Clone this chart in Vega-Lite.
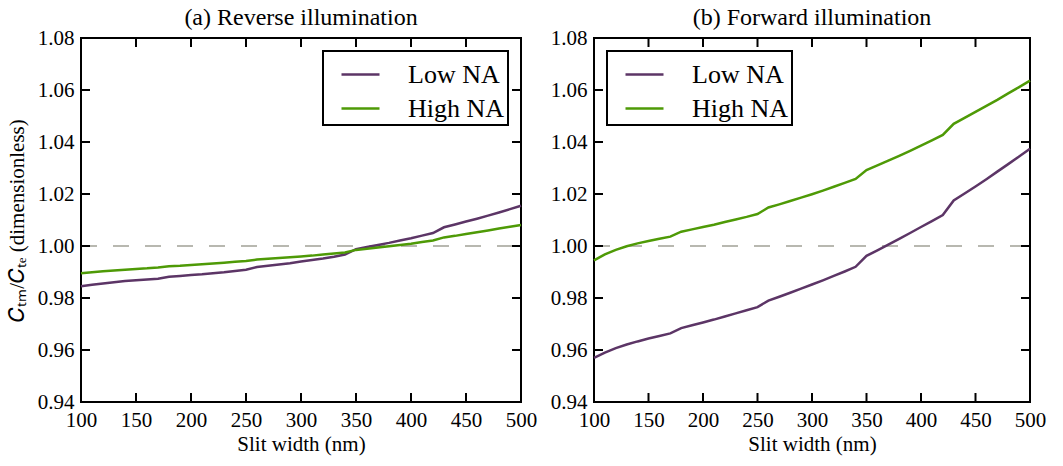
{
  "$schema": "https://vega.github.io/schema/vega-lite/v6.json",
  "padding": {"left": 5, "top": 5, "right": 5, "bottom": 5},
  "background": "white",
  "datasets": {
    "xt": [{"v":100},{"v":150},{"v":200},{"v":250},{"v":300},{"v":350},{"v":400},{"v":450},{"v":500}],
    "yt": [{"v":0.94},{"v":0.96},{"v":0.98},{"v":1.0},{"v":1.02},{"v":1.04},{"v":1.06},{"v":1.08}],
    "rev": [
      {"s":"Low NA","w":100,"c":0.9845},{"s":"Low NA","w":110,"c":0.9851},{"s":"Low NA","w":120,"c":0.9856},{"s":"Low NA","w":130,"c":0.9861},{"s":"Low NA","w":140,"c":0.9865},{"s":"Low NA","w":150,"c":0.9868},{"s":"Low NA","w":160,"c":0.9871},{"s":"Low NA","w":170,"c":0.9874},{"s":"Low NA","w":180,"c":0.9882},{"s":"Low NA","w":190,"c":0.9885},{"s":"Low NA","w":200,"c":0.9888},{"s":"Low NA","w":210,"c":0.9891},{"s":"Low NA","w":220,"c":0.9895},{"s":"Low NA","w":230,"c":0.9899},{"s":"Low NA","w":240,"c":0.9904},{"s":"Low NA","w":250,"c":0.9909},{"s":"Low NA","w":260,"c":0.9919},{"s":"Low NA","w":270,"c":0.9924},{"s":"Low NA","w":280,"c":0.9929},{"s":"Low NA","w":290,"c":0.9934},{"s":"Low NA","w":300,"c":0.9940},{"s":"Low NA","w":310,"c":0.9946},{"s":"Low NA","w":320,"c":0.9952},{"s":"Low NA","w":330,"c":0.9959},{"s":"Low NA","w":340,"c":0.9967},{"s":"Low NA","w":350,"c":0.9988},{"s":"Low NA","w":360,"c":0.9996},{"s":"Low NA","w":370,"c":1.0004},{"s":"Low NA","w":380,"c":1.0012},{"s":"Low NA","w":390,"c":1.0021},{"s":"Low NA","w":400,"c":1.0030},{"s":"Low NA","w":410,"c":1.0040},{"s":"Low NA","w":420,"c":1.0050},{"s":"Low NA","w":430,"c":1.0072},{"s":"Low NA","w":440,"c":1.0083},{"s":"Low NA","w":450,"c":1.0094},{"s":"Low NA","w":460,"c":1.0105},{"s":"Low NA","w":470,"c":1.0117},{"s":"Low NA","w":480,"c":1.0129},{"s":"Low NA","w":490,"c":1.0142},{"s":"Low NA","w":500,"c":1.0155},
      {"s":"High NA","w":100,"c":0.9895},{"s":"High NA","w":110,"c":0.9899},{"s":"High NA","w":120,"c":0.9903},{"s":"High NA","w":130,"c":0.9906},{"s":"High NA","w":140,"c":0.9909},{"s":"High NA","w":150,"c":0.9912},{"s":"High NA","w":160,"c":0.9914},{"s":"High NA","w":170,"c":0.9917},{"s":"High NA","w":180,"c":0.9922},{"s":"High NA","w":190,"c":0.9924},{"s":"High NA","w":200,"c":0.9927},{"s":"High NA","w":210,"c":0.9930},{"s":"High NA","w":220,"c":0.9933},{"s":"High NA","w":230,"c":0.9936},{"s":"High NA","w":240,"c":0.9939},{"s":"High NA","w":250,"c":0.9942},{"s":"High NA","w":260,"c":0.9948},{"s":"High NA","w":270,"c":0.9951},{"s":"High NA","w":280,"c":0.9954},{"s":"High NA","w":290,"c":0.9957},{"s":"High NA","w":300,"c":0.9960},{"s":"High NA","w":310,"c":0.9963},{"s":"High NA","w":320,"c":0.9967},{"s":"High NA","w":330,"c":0.9971},{"s":"High NA","w":340,"c":0.9975},{"s":"High NA","w":350,"c":0.9985},{"s":"High NA","w":360,"c":0.9989},{"s":"High NA","w":370,"c":0.9994},{"s":"High NA","w":380,"c":0.9999},{"s":"High NA","w":390,"c":1.0004},{"s":"High NA","w":400,"c":1.0009},{"s":"High NA","w":410,"c":1.0015},{"s":"High NA","w":420,"c":1.0021},{"s":"High NA","w":430,"c":1.0033},{"s":"High NA","w":440,"c":1.0039},{"s":"High NA","w":450,"c":1.0046},{"s":"High NA","w":460,"c":1.0053},{"s":"High NA","w":470,"c":1.0060},{"s":"High NA","w":480,"c":1.0067},{"s":"High NA","w":490,"c":1.0074},{"s":"High NA","w":500,"c":1.0081}
    ],
    "fwd": [
      {"s":"Low NA","w":100,"c":0.9570},{"s":"Low NA","w":110,"c":0.9590},{"s":"Low NA","w":120,"c":0.9607},{"s":"Low NA","w":130,"c":0.9621},{"s":"Low NA","w":140,"c":0.9633},{"s":"Low NA","w":150,"c":0.9644},{"s":"Low NA","w":160,"c":0.9654},{"s":"Low NA","w":170,"c":0.9664},{"s":"Low NA","w":180,"c":0.9684},{"s":"Low NA","w":190,"c":0.9695},{"s":"Low NA","w":200,"c":0.9706},{"s":"Low NA","w":210,"c":0.9717},{"s":"Low NA","w":220,"c":0.9729},{"s":"Low NA","w":230,"c":0.9741},{"s":"Low NA","w":240,"c":0.9753},{"s":"Low NA","w":250,"c":0.9765},{"s":"Low NA","w":260,"c":0.9790},{"s":"Low NA","w":270,"c":0.9805},{"s":"Low NA","w":280,"c":0.9820},{"s":"Low NA","w":290,"c":0.9836},{"s":"Low NA","w":300,"c":0.9852},{"s":"Low NA","w":310,"c":0.9868},{"s":"Low NA","w":320,"c":0.9885},{"s":"Low NA","w":330,"c":0.9902},{"s":"Low NA","w":340,"c":0.9920},{"s":"Low NA","w":350,"c":0.9962},{"s":"Low NA","w":360,"c":0.9983},{"s":"Low NA","w":370,"c":1.0005},{"s":"Low NA","w":380,"c":1.0027},{"s":"Low NA","w":390,"c":1.0050},{"s":"Low NA","w":400,"c":1.0073},{"s":"Low NA","w":410,"c":1.0096},{"s":"Low NA","w":420,"c":1.0119},{"s":"Low NA","w":430,"c":1.0175},{"s":"Low NA","w":440,"c":1.0202},{"s":"Low NA","w":450,"c":1.0229},{"s":"Low NA","w":460,"c":1.0257},{"s":"Low NA","w":470,"c":1.0286},{"s":"Low NA","w":480,"c":1.0315},{"s":"Low NA","w":490,"c":1.0344},{"s":"Low NA","w":500,"c":1.0374},
      {"s":"High NA","w":100,"c":0.9945},{"s":"High NA","w":110,"c":0.9968},{"s":"High NA","w":120,"c":0.9985},{"s":"High NA","w":130,"c":0.9999},{"s":"High NA","w":140,"c":1.0010},{"s":"High NA","w":150,"c":1.0019},{"s":"High NA","w":160,"c":1.0028},{"s":"High NA","w":170,"c":1.0036},{"s":"High NA","w":180,"c":1.0055},{"s":"High NA","w":190,"c":1.0064},{"s":"High NA","w":200,"c":1.0073},{"s":"High NA","w":210,"c":1.0082},{"s":"High NA","w":220,"c":1.0092},{"s":"High NA","w":230,"c":1.0102},{"s":"High NA","w":240,"c":1.0112},{"s":"High NA","w":250,"c":1.0123},{"s":"High NA","w":260,"c":1.0148},{"s":"High NA","w":270,"c":1.0160},{"s":"High NA","w":280,"c":1.0173},{"s":"High NA","w":290,"c":1.0186},{"s":"High NA","w":300,"c":1.0199},{"s":"High NA","w":310,"c":1.0213},{"s":"High NA","w":320,"c":1.0228},{"s":"High NA","w":330,"c":1.0243},{"s":"High NA","w":340,"c":1.0258},{"s":"High NA","w":350,"c":1.0292},{"s":"High NA","w":360,"c":1.0310},{"s":"High NA","w":370,"c":1.0328},{"s":"High NA","w":380,"c":1.0347},{"s":"High NA","w":390,"c":1.0366},{"s":"High NA","w":400,"c":1.0386},{"s":"High NA","w":410,"c":1.0406},{"s":"High NA","w":420,"c":1.0427},{"s":"High NA","w":430,"c":1.0470},{"s":"High NA","w":440,"c":1.0493},{"s":"High NA","w":450,"c":1.0516},{"s":"High NA","w":460,"c":1.0539},{"s":"High NA","w":470,"c":1.0562},{"s":"High NA","w":480,"c":1.0587},{"s":"High NA","w":490,"c":1.0611},{"s":"High NA","w":500,"c":1.0636}
    ]
  },
  "config": {
    "font": "Liberation Serif",
    "view": {"stroke": "black", "strokeWidth": 2},
    "axis": {
      "grid": false, "domain": false, "ticks": false,
      "labelFontSize": 21, "labelColor": "black", "labelPadding": 7,
      "labelFlush": false, "labelOverlap": false,
      "titleFontSize": 21, "titleFontWeight": "normal", "titleColor": "black"
    },
    "title": {"fontSize": 24, "fontWeight": "normal", "color": "black", "offset": -3},
    "legend": {
      "title": null, "symbolType": "stroke", "symbolSize": 1444, "symbolStrokeWidth": 2.5,
      "labelFontSize": 26, "labelColor": "black", "labelOffset": 27, "symbolOffset": 14,
      "strokeColor": "black", "fillColor": "white", "padding": 3, "offset": 13, "rowPadding": 0,
      "labelLimit": 300, "zindex": 2
    }
  },
  "spacing": 11,
  "resolve": {"legend": {"color": "independent"}},
  "hconcat": [
    {
      "width": 440, "height": 364,
      "title": "(a) Reverse illumination",
      "layer": [
        {
          "data": {"values": [{"a": 1}]},
          "mark": {"type": "rule", "color": "#b8b8b0", "strokeWidth": 2, "strokeDash": [16, 16]},
          "encoding": {
            "x": {"datum": 100, "type": "quantitative", "scale": {"domain": [100, 500], "nice": false, "zero": false},
                  "axis": {"orient": "bottom", "title": "Slit width (nm)", "values": [100,150,200,250,300,350,400,450,500], "format": "d", "titlePadding": 3}},
            "x2": {"datum": 500},
            "y": {"datum": 1.0, "type": "quantitative", "scale": {"domain": [0.94, 1.08], "nice": false, "zero": false},
                  "axis": {"orient": "left", "title": "𝐶ₜₘ/𝐶ₜₑ (dimensionless)", "values": [0.94,0.96,0.98,1.0,1.02,1.04,1.06,1.08], "format": ".2f", "titlePadding": 10}}
          }
        },
        {
          "data": {"name": "rev"},
          "mark": {"type": "line", "strokeWidth": 2.5},
          "encoding": {
            "x": {"field": "w", "type": "quantitative",
                  "axis": {"orient": "bottom", "title": "Slit width (nm)", "values": [100,150,200,250,300,350,400,450,500], "format": "d", "titlePadding": 3}},
            "y": {"field": "c", "type": "quantitative",
                  "axis": {"orient": "left", "title": "𝐶ₜₘ/𝐶ₜₑ (dimensionless)", "values": [0.94,0.96,0.98,1.0,1.02,1.04,1.06,1.08], "format": ".2f", "titlePadding": 10}},
            "color": {"field": "s", "type": "nominal", "sort": ["Low NA", "High NA"],
                      "scale": {"domain": ["Low NA", "High NA"], "range": ["#5c3566", "#4e9a06"]},
                      "legend": {"orient": "top-right", "encode": {"legend": {"update": {"strokeWidth": {"value": 2}}}}}}
          }
        },
        {
          "data": {"name": "xt"},
          "mark": {"type": "tick", "orient": "vertical", "thickness": 2, "color": "black", "opacity": 1, "yOffset": -4.5},
          "encoding": {
            "x": {"field": "v", "type": "quantitative", "axis": {"orient": "bottom", "title": "Slit width (nm)", "values": [100,150,200,250,300,350,400,450,500], "format": "d", "titlePadding": 3}},
            "y": {"datum": 0.94, "type": "quantitative", "axis": {"orient": "left", "title": "𝐶ₜₘ/𝐶ₜₑ (dimensionless)", "values": [0.94,0.96,0.98,1.0,1.02,1.04,1.06,1.08], "format": ".2f", "titlePadding": 10}},
            "size": {"value": 9}}
        },
        {
          "data": {"name": "xt"},
          "mark": {"type": "tick", "orient": "vertical", "thickness": 2, "color": "black", "opacity": 1, "yOffset": 4.5},
          "encoding": {
            "x": {"field": "v", "type": "quantitative", "axis": {"orient": "bottom", "title": "Slit width (nm)", "values": [100,150,200,250,300,350,400,450,500], "format": "d", "titlePadding": 3}},
            "y": {"datum": 1.08, "type": "quantitative", "axis": {"orient": "left", "title": "𝐶ₜₘ/𝐶ₜₑ (dimensionless)", "values": [0.94,0.96,0.98,1.0,1.02,1.04,1.06,1.08], "format": ".2f", "titlePadding": 10}},
            "size": {"value": 9}}
        },
        {
          "data": {"name": "yt"},
          "mark": {"type": "tick", "orient": "horizontal", "thickness": 2, "color": "black", "opacity": 1, "xOffset": 4.5},
          "encoding": {
            "y": {"field": "v", "type": "quantitative", "axis": {"orient": "left", "title": "𝐶ₜₘ/𝐶ₜₑ (dimensionless)", "values": [0.94,0.96,0.98,1.0,1.02,1.04,1.06,1.08], "format": ".2f", "titlePadding": 10}},
            "x": {"datum": 100, "type": "quantitative", "axis": {"orient": "bottom", "title": "Slit width (nm)", "values": [100,150,200,250,300,350,400,450,500], "format": "d", "titlePadding": 3}},
            "size": {"value": 9}}
        },
        {
          "data": {"name": "yt"},
          "mark": {"type": "tick", "orient": "horizontal", "thickness": 2, "color": "black", "opacity": 1, "xOffset": -4.5},
          "encoding": {
            "y": {"field": "v", "type": "quantitative", "axis": {"orient": "left", "title": "𝐶ₜₘ/𝐶ₜₑ (dimensionless)", "values": [0.94,0.96,0.98,1.0,1.02,1.04,1.06,1.08], "format": ".2f", "titlePadding": 10}},
            "x": {"datum": 500, "type": "quantitative", "axis": {"orient": "bottom", "title": "Slit width (nm)", "values": [100,150,200,250,300,350,400,450,500], "format": "d", "titlePadding": 3}},
            "size": {"value": 9}}
        }
      ]
    },
    {
      "width": 436, "height": 364,
      "title": "(b) Forward illumination",
      "layer": [
        {
          "data": {"values": [{"a": 1}]},
          "mark": {"type": "rule", "color": "#b8b8b0", "strokeWidth": 2, "strokeDash": [16, 16]},
          "encoding": {
            "x": {"datum": 100, "type": "quantitative", "scale": {"domain": [100, 500], "nice": false, "zero": false},
                  "axis": {"orient": "bottom", "title": "Slit width (nm)", "values": [100,150,200,250,300,350,400,450,500], "format": "d", "titlePadding": 3}},
            "x2": {"datum": 500},
            "y": {"datum": 1.0, "type": "quantitative", "scale": {"domain": [0.94, 1.08], "nice": false, "zero": false},
                  "axis": {"orient": "left", "title": null, "values": [0.94,0.96,0.98,1.0,1.02,1.04,1.06,1.08], "format": ".2f"}}
          }
        },
        {
          "data": {"name": "fwd"},
          "mark": {"type": "line", "strokeWidth": 2.5},
          "encoding": {
            "x": {"field": "w", "type": "quantitative",
                  "axis": {"orient": "bottom", "title": "Slit width (nm)", "values": [100,150,200,250,300,350,400,450,500], "format": "d", "titlePadding": 3}},
            "y": {"field": "c", "type": "quantitative",
                  "axis": {"orient": "left", "title": null, "values": [0.94,0.96,0.98,1.0,1.02,1.04,1.06,1.08], "format": ".2f"}},
            "color": {"field": "s", "type": "nominal", "sort": ["Low NA", "High NA"],
                      "scale": {"domain": ["Low NA", "High NA"], "range": ["#5c3566", "#4e9a06"]},
                      "legend": {"orient": "top-left", "encode": {"legend": {"update": {"strokeWidth": {"value": 2}}}}}}
          }
        },
        {
          "data": {"name": "xt"},
          "mark": {"type": "tick", "orient": "vertical", "thickness": 2, "color": "black", "opacity": 1, "yOffset": -4.5},
          "encoding": {
            "x": {"field": "v", "type": "quantitative", "axis": {"orient": "bottom", "title": "Slit width (nm)", "values": [100,150,200,250,300,350,400,450,500], "format": "d", "titlePadding": 3}},
            "y": {"datum": 0.94, "type": "quantitative", "axis": {"orient": "left", "title": null, "values": [0.94,0.96,0.98,1.0,1.02,1.04,1.06,1.08], "format": ".2f"}},
            "size": {"value": 9}}
        },
        {
          "data": {"name": "xt"},
          "mark": {"type": "tick", "orient": "vertical", "thickness": 2, "color": "black", "opacity": 1, "yOffset": 4.5},
          "encoding": {
            "x": {"field": "v", "type": "quantitative", "axis": {"orient": "bottom", "title": "Slit width (nm)", "values": [100,150,200,250,300,350,400,450,500], "format": "d", "titlePadding": 3}},
            "y": {"datum": 1.08, "type": "quantitative", "axis": {"orient": "left", "title": null, "values": [0.94,0.96,0.98,1.0,1.02,1.04,1.06,1.08], "format": ".2f"}},
            "size": {"value": 9}}
        },
        {
          "data": {"name": "yt"},
          "mark": {"type": "tick", "orient": "horizontal", "thickness": 2, "color": "black", "opacity": 1, "xOffset": 4.5},
          "encoding": {
            "y": {"field": "v", "type": "quantitative", "axis": {"orient": "left", "title": null, "values": [0.94,0.96,0.98,1.0,1.02,1.04,1.06,1.08], "format": ".2f"}},
            "x": {"datum": 100, "type": "quantitative", "axis": {"orient": "bottom", "title": "Slit width (nm)", "values": [100,150,200,250,300,350,400,450,500], "format": "d", "titlePadding": 3}},
            "size": {"value": 9}}
        },
        {
          "data": {"name": "yt"},
          "mark": {"type": "tick", "orient": "horizontal", "thickness": 2, "color": "black", "opacity": 1, "xOffset": -4.5},
          "encoding": {
            "y": {"field": "v", "type": "quantitative", "axis": {"orient": "left", "title": null, "values": [0.94,0.96,0.98,1.0,1.02,1.04,1.06,1.08], "format": ".2f"}},
            "x": {"datum": 500, "type": "quantitative", "axis": {"orient": "bottom", "title": "Slit width (nm)", "values": [100,150,200,250,300,350,400,450,500], "format": "d", "titlePadding": 3}},
            "size": {"value": 9}}
        }
      ]
    }
  ]
}
